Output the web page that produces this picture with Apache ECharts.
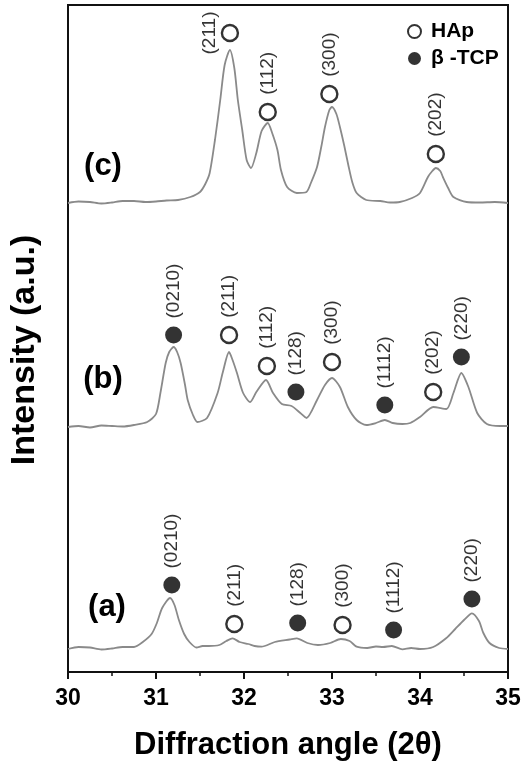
<!DOCTYPE html>
<html>
<head>
<meta charset="utf-8">
<script src="https://cdn.jsdelivr.net/npm/echarts@6/dist/echarts.min.js"></script>
<style>
  html, body { margin: 0; padding: 0; background: #fff; }
  #chart { width: 531px; height: 769px; }
</style>
</head>
<body>
<div id="chart"></div>
<script>
// XRD patterns, [2theta, intensity (a.u., already stacked)]
var patternA = [
  [30.00, 23], [30.12, 25], [30.25, 24.5], [30.38, 22.5], [30.50, 23.5], [30.62, 25], [30.75, 25],
  [30.85, 30], [30.95, 38], [31.01, 49], [31.07, 64], [31.16, 74], [31.21, 67], [31.26, 52],
  [31.32, 38], [31.38, 30], [31.46, 24.5], [31.53, 26], [31.60, 26], [31.72, 27], [31.80, 31],
  [31.87, 33.7], [31.95, 30], [32.05, 28], [32.12, 26], [32.20, 25.3], [32.35, 30], [32.52, 32.5],
  [32.60, 33.7], [32.72, 29], [32.84, 27], [32.98, 29], [33.10, 33], [33.20, 31], [33.28, 25.3],
  [33.40, 24], [33.50, 25.5], [33.58, 25], [33.68, 26], [33.80, 22.7], [33.90, 24], [34.00, 23],
  [34.15, 25], [34.30, 34], [34.40, 43], [34.50, 52], [34.59, 58.7], [34.67, 51], [34.72, 39],
  [34.79, 29], [34.90, 24], [35.00, 23]
];
var patternB = [
  [30.00, 245], [30.12, 246], [30.25, 244.5], [30.38, 246.5], [30.50, 246], [30.62, 245.5],
  [30.75, 247], [30.90, 250], [31.00, 258], [31.05, 279], [31.11, 309], [31.15, 320],
  [31.20, 325], [31.24, 320], [31.28, 309], [31.33, 287], [31.36, 272], [31.42, 257],
  [31.47, 250], [31.58, 254], [31.70, 279], [31.76, 300], [31.83, 320], [31.87, 312],
  [31.92, 299], [31.99, 279], [32.07, 270], [32.14, 280], [32.25, 292], [32.33, 279],
  [32.43, 268], [32.54, 266], [32.64, 259], [32.71, 254], [32.83, 272], [32.92, 287],
  [33.00, 294], [33.09, 285], [33.18, 265], [33.28, 252], [33.39, 247], [33.50, 249],
  [33.60, 252], [33.69, 249], [33.80, 248], [33.89, 249], [34.00, 255], [34.15, 265],
  [34.30, 263], [34.38, 279], [34.47, 299], [34.55, 285], [34.65, 259], [34.76, 248],
  [34.91, 246], [35.00, 246]
];
var patternC = [
  [30.00, 469], [30.12, 470.5], [30.25, 470], [30.38, 468.5], [30.50, 469.5], [30.62, 471],
  [30.75, 471], [30.88, 470], [31.00, 470.5], [31.12, 471.5], [31.25, 472], [31.39, 475],
  [31.50, 480], [31.56, 488], [31.61, 499], [31.67, 532], [31.73, 572], [31.78, 607],
  [31.84, 622], [31.89, 604], [31.93, 572], [31.98, 542], [32.03, 512], [32.08, 504],
  [32.14, 519], [32.20, 541], [32.27, 549], [32.32, 539], [32.38, 522], [32.42, 502],
  [32.49, 485], [32.60, 479], [32.71, 480], [32.76, 489], [32.83, 505], [32.88, 526],
  [32.92, 545], [32.97, 562], [33.00, 565], [33.05, 558], [33.09, 545], [33.14, 526],
  [33.19, 505], [33.23, 490], [33.28, 479], [33.39, 472], [33.55, 471], [33.66, 469.5],
  [33.77, 470], [33.91, 474], [34.00, 479], [34.09, 495], [34.14, 501], [34.18, 504],
  [34.23, 501], [34.26, 495], [34.32, 484], [34.38, 475], [34.53, 470], [34.68, 469.5],
  [34.85, 470], [35.00, 469]
];

// peak marks: [hkl, 2theta, height]
var hapPeaks = [
  ['(211)', 31.84, 639], ['(112)', 32.27, 560], ['(300)', 32.97, 578], ['(202)', 34.18, 518],
  ['(211)', 31.83, 337], ['(112)', 32.26, 306], ['(300)', 33.00, 310], ['(202)', 34.15, 280],
  ['(211)', 31.89, 48], ['(300)', 33.12, 47]
];
var tcpPeaks = [
  ['(0210)', 31.20, 337], ['(128)', 32.59, 280], ['(1112)', 33.60, 267], ['(220)', 34.47, 315],
  ['(0210)', 31.18, 87], ['(128)', 32.61, 49], ['(1112)', 33.70, 42], ['(220)', 34.59, 73]
];
var sampleNames = ['(a)', '(b)', '(c)'];
var xTicks = [30, 31, 32, 33, 34, 35];

function peakData(list) {
  return list.map(function (p, i) {
    var item = { value: [p[1], p[2]], name: p[0] };
    // the top (211) label sits beside its circle
    if (list === hapPeaks && i === 0) {
      item.label = { position: 'left', align: 'center', distance: 11 };
    }
    return item;
  });
}

var peakLabel = {
  show: true,
  position: 'top',
  distance: 8,
  rotate: 90,
  align: 'left',
  verticalAlign: 'middle',
  formatter: '{b}',
  fontFamily: 'Liberation Sans',
  fontSize: 19,
  color: '#000'
};

function trace(data) {
  return {
    type: 'line',
    data: data,
    symbol: 'none',
    smooth: 0.25,
    silent: true,
    lineStyle: { color: '#8a8a8a', width: 1.8 }
  };
}

var bigFont = '"Liberation Sans"';

var myChart = echarts.init(document.getElementById('chart'));
var option = {
  animation: false,
  backgroundColor: '#fff',
  grid: {
    left: 68, right: 23, top: 5, bottom: 97,
    show: true, borderColor: '#111', borderWidth: 2
  },
  legend: {
    data: ['HAp', 'β -TCP'],
    orient: 'vertical',
    left: 402,
    top: 16,
    itemWidth: 23,
    itemHeight: 13,
    itemGap: 6,
    textStyle: { fontFamily: 'Liberation Sans', fontWeight: 'bold', fontSize: 21, color: '#000' }
  },
  xAxis: {
    type: 'value',
    min: 30, max: 35, interval: 1,
    name: 'Diffraction angle (2θ)',
    nameLocation: 'middle',
    nameGap: 58,
    nameTextStyle: { fontFamily: 'Liberation Sans', fontWeight: 'bold', fontSize: 31, color: '#000' },
    axisLine: { lineStyle: { color: '#111', width: 2 } },
    axisTick: { length: 7, lineStyle: { color: '#111', width: 2 } },
    minorTick: { show: true, splitNumber: 2, length: 4, lineStyle: { color: '#111', width: 1.5 } },
    axisLabel: {
      margin: 15,
      fontFamily: 'Liberation Sans', fontWeight: 'bold', fontSize: 23, color: '#000',
      formatter: function (v) { return xTicks.indexOf(v) >= 0 ? String(v) : ''; }
    },
    splitLine: { show: false }
  },
  yAxis: {
    type: 'value',
    min: 0, max: 667,
    axisLine: { show: true, lineStyle: { color: '#111', width: 2 } },
    axisTick: { show: false },
    axisLabel: { show: false },
    splitLine: { show: false }
  },
  graphic: [
    {
      type: 'text', x: 25, y: 350, rotation: Math.PI / 2,
      style: {
        text: 'Intensity (a.u.)', align: 'center', verticalAlign: 'middle',
        font: 'bold 34px ' + bigFont, fill: '#000'
      }
    },
    { type: 'text', x: 107, y: 607, style: { text: sampleNames[0], align: 'center', verticalAlign: 'middle', font: 'bold 31px ' + bigFont, fill: '#000' } },
    { type: 'text', x: 103, y: 379, style: { text: sampleNames[1], align: 'center', verticalAlign: 'middle', font: 'bold 31px ' + bigFont, fill: '#000' } },
    { type: 'text', x: 103, y: 166, style: { text: sampleNames[2], align: 'center', verticalAlign: 'middle', font: 'bold 31px ' + bigFont, fill: '#000' } }
  ],
  series: [
    trace(patternA),
    trace(patternB),
    trace(patternC),
    {
      name: 'HAp',
      type: 'scatter',
      symbol: 'circle',
      symbolSize: 16,
      data: peakData(hapPeaks),
      itemStyle: { color: '#fff', borderColor: '#000', borderWidth: 2.4 },
      label: peakLabel,
      z: 5
    },
    {
      name: 'β -TCP',
      type: 'scatter',
      symbol: 'circle',
      symbolSize: 17,
      data: peakData(tcpPeaks),
      itemStyle: { color: '#000' },
      label: peakLabel,
      z: 5
    }
  ]
};
myChart.setOption(option);
</script>
</body>
</html>
